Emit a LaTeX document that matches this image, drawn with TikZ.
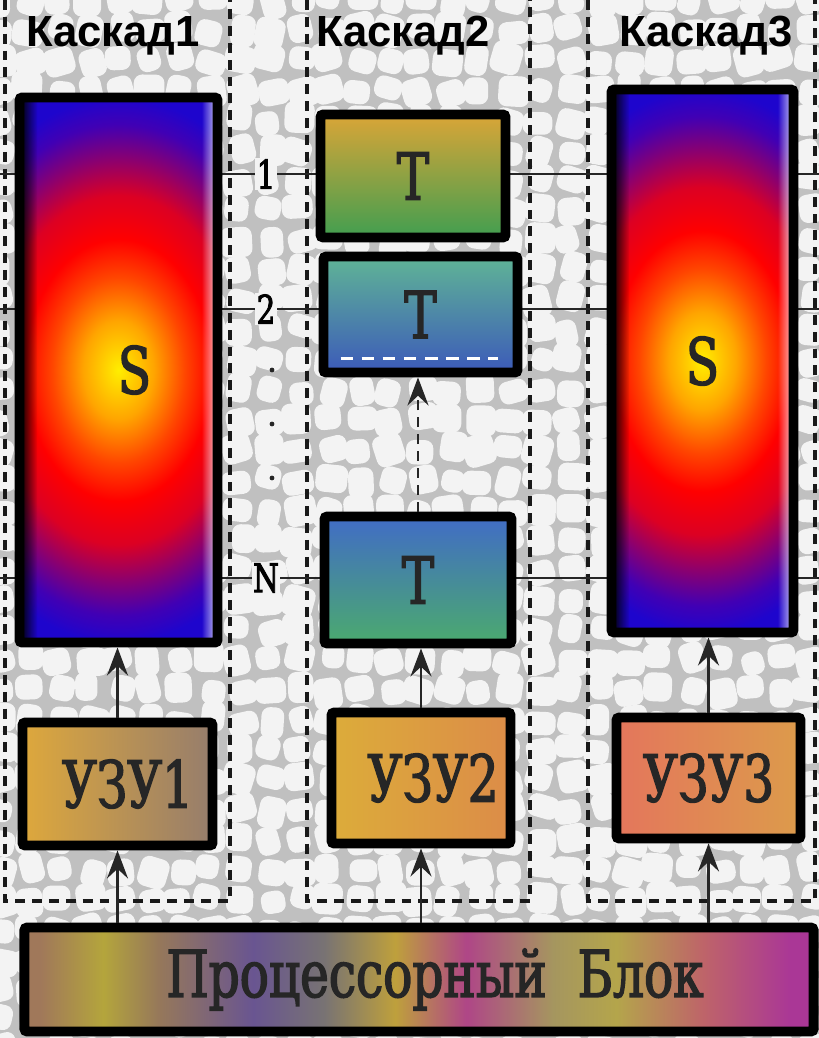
\documentclass[tikz,border=0pt]{standalone}
\usepackage{fontspec}
\setmainfont{Liberation Sans}
\newfontfamily\blockfont[FakeStretch=0.75,FakeBold=2.2]{DejaVu Serif}
\usetikzlibrary{arrows.meta,positioning,calc,fadings}
% background
\definecolor{bgcell}{RGB}{243,243,243}
\definecolor{bgvein}{RGB}{192,192,192}
% S blocks
\definecolor{sYel}{RGB}{255,238,0}
\definecolor{sOra}{RGB}{255,165,0}
\definecolor{sOrr}{RGB}{255,70,0}
\definecolor{sRed}{RGB}{255,0,0}
\definecolor{sCri}{RGB}{220,0,35}
\definecolor{sPur}{RGB}{135,0,115}
\definecolor{sVio}{RGB}{65,0,180}
\definecolor{sBlu}{RGB}{30,5,205}
% T blocks
\definecolor{taTop}{RGB}{218,165,55}
\definecolor{taMid}{RGB}{165,185,55}
\definecolor{taBot}{RGB}{65,158,80}
\definecolor{tbTop}{RGB}{95,180,150}
\definecolor{tbMid}{RGB}{70,135,195}
\definecolor{tbBot}{RGB}{60,90,185}
\definecolor{tnTop}{RGB}{65,108,198}
\definecolor{tnMid}{RGB}{55,140,190}
\definecolor{tnBot}{RGB}{75,170,110}
% memory blocks
\definecolor{uaL}{RGB}{222,168,60}
\definecolor{uaR}{RGB}{150,125,108}
\definecolor{ubL}{RGB}{220,172,58}
\definecolor{ubM}{RGB}{215,190,50}
\definecolor{ubR}{RGB}{220,140,72}
\definecolor{ucL}{RGB}{228,118,92}
\definecolor{ucR}{RGB}{220,155,75}
% processor block
\definecolor{pA}{RGB}{160,120,90}
\definecolor{pB}{RGB}{180,165,60}
\definecolor{pC}{RGB}{150,120,90}
\definecolor{pD}{RGB}{105,85,145}
\definecolor{pE}{RGB}{120,115,115}
\definecolor{pF}{RGB}{190,160,60}
\definecolor{pG}{RGB}{175,70,135}
\definecolor{pH}{RGB}{165,150,95}
\definecolor{pI}{RGB}{180,165,75}
\definecolor{pJ}{RGB}{190,100,105}
\definecolor{pK}{RGB}{170,55,150}
\pgfdeclareradialshading{sglow}{\pgfpoint{0bp}{0bp}}{color(0bp)=(sYel); color(4.5bp)=(sOra); color(8.5bp)=(sOrr); color(12bp)=(sRed); color(16bp)=(sCri); color(19.5bp)=(sPur); color(22.5bp)=(sVio); color(25bp)=(sBlu); color(50bp)=(sBlu)}
\pgfdeclarehorizontalshading{procmix}{100bp}{color(0bp)=(pA); color(26bp)=(pA); color(30bp)=(pB); color(33.5bp)=(pC); color(39.5bp)=(pD); color(44bp)=(pE); color(48.5bp)=(pF); color(53bp)=(pG); color(58.5bp)=(pH); color(62.5bp)=(pI); color(68bp)=(pJ); color(73.5bp)=(pK); color(100bp)=(pK)}
\tikzset{
  blockbox/.style={draw=black, line width=7pt, rounded corners=2pt, inner sep=0pt,
                   font=\blockfont\fontsize{46pt}{46pt}\selectfont, text=black!85},
  sblock/.style={blockbox, path picture={
      \shade[shading=sglow] ([xshift=-2.4cm]path picture bounding box.south west) rectangle ([xshift=2.4cm]path picture bounding box.north east);
      \fill[black, path fading=east] (path picture bounding box.south west) rectangle ([xshift=0.45cm]path picture bounding box.north west);
      \fill[white, opacity=0.8, path fading=west] ([xshift=-0.4cm]path picture bounding box.south east) rectangle (path picture bounding box.north east);}},
  tblock/.style n args={3}{blockbox, top color=#1, middle color=#2, bottom color=#3},
  casctitle/.style={font=\fontsize{31pt}{31pt}\selectfont\bfseries, inner sep=0pt, anchor=base},
  cascframe/.style={draw=black!90, line width=2.6pt, dash pattern=on 7pt off 5pt},
  level/.style={draw=black!85, line width=1.5pt},
  lvlabel/.style={font=\blockfont\fontsize{28pt}{28pt}\selectfont, fill=bgcell, inner sep=1pt},
  feed/.style={draw=black!85, line width=1.6pt, -{Stealth[length=20pt,width=15pt,inset=7pt]}},
}
\begin{document}
\begin{tikzpicture}[x=0.025cm, y=-0.025cm]
\useasboundingbox (0,0) rectangle (819,1038);
% Background texture
\fill[bgvein] (0,0) rectangle (819,1038);
\pgfmathsetseed{12}
\foreach \i in {0,...,27}{\foreach \j in {0,...,35}{
  \pgfmathsetmacro\cx{\i*30+4*rand}
  \pgfmathsetmacro\cy{\j*30+4*rand}
  \pgfmathsetmacro\rw{13.5+2.5*rand}
  \pgfmathsetmacro\rh{13.5+2.5*rand}
  \pgfmathsetmacro\ang{18*rand}
  \fill[bgcell, rounded corners=6pt, rotate around={\ang:(\cx,\cy)}] ({\cx-\rw},{\cy-\rh}) rectangle ({\cx+\rw},{\cy+\rh});
}}
% Cascade frames
\draw[cascframe] (5,0) |- (230,901) -- (230,0);
\draw[cascframe] (307,0) |- (530,901) -- (530,0);
\draw[cascframe] (588,0) |- (815,901) -- (815,0);
% Levels 1, 2, ..., N
\foreach \y/\t/\n in {174/1/one, 309/2/two, 578/N/en}{
  \coordinate (w\n) at (0,\y);
  \coordinate (e\n) at (819,\y);
  \draw[level] (w\n) -- (e\n);
  \node[lvlabel] (lab\n) at (266,\y) {\t};
}
\foreach \y in {370,424,478} \fill[black!85] (272,\y) circle (2.4);
% Blocks
\node[sblock, minimum width=4.95cm, minimum height=13.625cm] (s1) at (118.5,370) {\hspace*{0.8cm}S};
\node[sblock, minimum width=4.55cm, minimum height=13.575cm] (s3) at (702.5,361) {S};
\node[tblock={taTop}{taMid}{taBot}, minimum width=4.625cm, minimum height=3.075cm] (t1) at (413,176) {T};
\node[tblock={tbTop}{tbMid}{tbBot}, minimum width=4.85cm, minimum height=2.9cm] (t2) at (420.5,314.5) {T};
\node[tblock={tnTop}{tnMid}{tnBot}, minimum width=4.675cm, minimum height=3.175cm] (tn) at (418,580) {T};
\draw[white, line width=1.8pt, dash pattern=on 9pt off 6pt] ($(t2.south west)+(22,-19)$) -- ($(t2.south east)+(-24,-19)$);
\node[blockbox, left color=uaL, right color=uaR, minimum width=4.75cm, minimum height=3.075cm] (u1) at (117.5,784) {\hspace*{0.5cm}УЗУ1};
\node[blockbox, left color=ubL, middle color=ubM, right color=ubR, minimum width=4.475cm, minimum height=3.275cm] (u2) at (421,778) {\hspace*{0.6cm}УЗУ2};
\node[blockbox, left color=ucL, right color=ucR, minimum width=4.6cm, minimum height=3.025cm] (u3) at (708.5,778) {УЗУ3};
\node[blockbox, shading=procmix, minimum width=19.725cm, minimum height=2.6cm,
      font=\blockfont\fontsize{46pt}{46pt}\selectfont] (proc) at (419,979.5) {\hspace*{0.8cm}Процессорный\ \ Блок};
% Connectors
\draw[feed] (u1.north) -- (u1.north |- s1.south);
\draw[feed] (u2.north) -- (u2.north |- tn.south);
\draw[feed] (u3.north) -- (u3.north |- s3.south);
\draw[feed, dash pattern=on 7pt off 5pt] (tn.north) -- (tn.north |- t2.south);
\draw[feed] (proc.north -| u1) -- (u1.south);
\draw[feed] (proc.north -| u2) -- (u2.south);
\draw[feed] (proc.north -| u3) -- (u3.south);
% Titles
\node[casctitle] (c1) at (113,47) {Каскад1};
\node[casctitle] (c2) at (403,47) {Каскад2};
\node[casctitle] (c3) at (706,47) {Каскад3};
\end{tikzpicture}
\end{document}
